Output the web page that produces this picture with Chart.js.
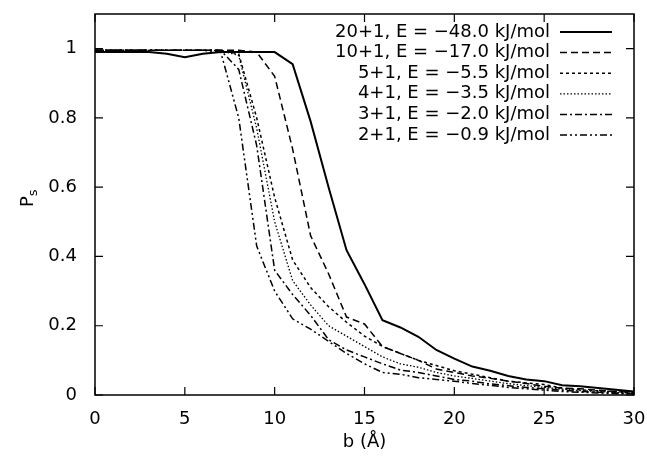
<!DOCTYPE html>
<html lang="en">
<head>
  <meta charset="UTF-8">
  <title>Ps vs impact parameter</title>
  <script src="https://cdn.jsdelivr.net/npm/chart.js"></script>
  <style>
    body { margin: 0; background: #fff; }
    canvas { display: block; }
  </style>
</head>
<body>
  <canvas id="psChart" width="647" height="457"></canvas>

  <script>
    // impact parameter b (Å), one point per Å
    const bValues = [0, 1, 2, 3, 4, 5, 6, 7, 8, 9, 10, 11, 12, 13, 14, 15, 16, 17, 18, 19, 20, 21, 22, 23, 24, 25, 26, 27, 28, 29, 30];

    const seriesLabels = [
      '20+1, E = \u221248.0 kJ/mol',
      '10+1, E = \u221217.0 kJ/mol',
      '5+1, E = \u22125.5 kJ/mol',
      '4+1, E = \u22123.5 kJ/mol',
      '3+1, E = \u22122.0 kJ/mol',
      '2+1, E = \u22120.9 kJ/mol'
    ];

    const ps20 = [0.99, 0.99, 0.99, 0.99, 0.985, 0.975, 0.985, 0.99, 0.99, 0.99, 0.99, 0.955, 0.79, 0.6, 0.418, 0.32, 0.216, 0.195, 0.168, 0.13, 0.105, 0.082, 0.07, 0.055, 0.045, 0.04, 0.028, 0.025, 0.02, 0.015, 0.01];
    const ps10 = [0.995, 0.995, 0.995, 0.995, 0.995, 0.995, 0.995, 0.995, 0.995, 0.99, 0.92, 0.71, 0.46, 0.35, 0.225, 0.205, 0.14, 0.12, 0.1, 0.075, 0.065, 0.055, 0.048, 0.04, 0.033, 0.025, 0.02, 0.018, 0.014, 0.01, 0.008];
    const ps5 = [0.995, 0.995, 0.995, 0.995, 0.995, 0.995, 0.995, 0.995, 0.985, 0.8, 0.57, 0.39, 0.31, 0.255, 0.21, 0.17, 0.14, 0.12, 0.1, 0.085, 0.07, 0.06, 0.05, 0.04, 0.035, 0.03, 0.02, 0.015, 0.012, 0.01, 0.006];
    const ps4 = [0.995, 0.995, 0.995, 0.995, 0.995, 0.995, 0.995, 0.995, 0.98, 0.77, 0.5, 0.33, 0.26, 0.2, 0.17, 0.14, 0.11, 0.09, 0.08, 0.065, 0.055, 0.048, 0.04, 0.033, 0.027, 0.022, 0.017, 0.013, 0.01, 0.008, 0.005];
    const ps3 = [0.995, 0.995, 0.995, 0.995, 0.995, 0.995, 0.995, 0.995, 0.94, 0.72, 0.36, 0.29, 0.23, 0.16, 0.13, 0.11, 0.09, 0.072, 0.065, 0.055, 0.045, 0.04, 0.032, 0.027, 0.022, 0.018, 0.014, 0.01, 0.008, 0.006, 0.004];
    const ps2 = [0.995, 0.995, 0.995, 0.995, 0.995, 0.995, 0.995, 0.99, 0.8, 0.43, 0.3, 0.22, 0.19, 0.155, 0.12, 0.09, 0.065, 0.06, 0.05, 0.045, 0.04, 0.033, 0.028, 0.022, 0.018, 0.014, 0.01, 0.008, 0.006, 0.004, 0.003];

    const allSeries = [ps20, ps10, ps5, ps4, ps3, ps2];
    const dashes = [[], [7, 4], [3, 3], [1.5, 2], [7, 3, 2, 3], [7, 3, 2, 3, 2, 3]];
    const widths = [2, 1.5, 1.5, 1.3, 1.5, 1.5];

    const FONT = 'DejaVu Sans';

    const datasets = allSeries.map((vals, i) => ({
      label: seriesLabels[i],
      data: vals.map((v, j) => ({ x: bValues[j], y: v })),
      borderColor: '#000',
      borderWidth: widths[i],
      borderDash: dashes[i],
      pointRadius: 0,
      fill: false,
      tension: 0
    }));

    // frame with inward ticks on all four sides, legend and y title
    const framePlugin = {
      id: 'frame',
      afterDraw(chart) {
        const { ctx, chartArea: a, scales } = chart;
        ctx.save();
        ctx.strokeStyle = '#000';
        ctx.lineWidth = 1.5;
        ctx.setLineDash([]);
        ctx.strokeRect(a.left, a.top, a.right - a.left, a.bottom - a.top);

        ctx.lineWidth = 1.2;
        ctx.beginPath();
        scales.x.ticks.forEach(t => {
          const px = scales.x.getPixelForValue(t.value);
          ctx.moveTo(px, a.bottom); ctx.lineTo(px, a.bottom - 8);
          ctx.moveTo(px, a.top); ctx.lineTo(px, a.top + 8);
        });
        scales.y.ticks.forEach(t => {
          const py = scales.y.getPixelForValue(t.value);
          ctx.moveTo(a.left, py); ctx.lineTo(a.left + 8, py);
          ctx.moveTo(a.right, py); ctx.lineTo(a.right - 8, py);
        });
        ctx.stroke();

        // legend: right aligned text, line sample to its right
        ctx.font = '18px "' + FONT + '"';
        ctx.textAlign = 'right';
        ctx.textBaseline = 'middle';
        ctx.fillStyle = '#000';
        chart.data.datasets.forEach((ds, i) => {
          const y = 32 + i * 20.6;
          ctx.fillText(ds.label, 550, y);
          ctx.beginPath();
          ctx.lineWidth = ds.borderWidth;
          ctx.setLineDash(ds.borderDash);
          ctx.moveTo(560, y);
          ctx.lineTo(612, y);
          ctx.stroke();
        });
        ctx.setLineDash([]);

        // y title P with subscript s
        ctx.translate(28, 198);
        ctx.rotate(-Math.PI / 2);
        ctx.textAlign = 'left';
        ctx.textBaseline = 'middle';
        ctx.font = '18px "' + FONT + '"';
        ctx.fillText('P', -9, 0);
        const pw = ctx.measureText('P').width;
        ctx.font = '13px "' + FONT + '"';
        ctx.fillText('s', -9 + pw, 6);
        ctx.restore();
      }
    };

    const ctx = document.getElementById('psChart').getContext('2d');
    new Chart(ctx, {
      type: 'line',
      data: { datasets },
      options: {
        responsive: false,
        animation: false,
        layout: { padding: { top: 14, right: 13, left: 0, bottom: 0 } },
        plugins: {
          legend: { display: false },
          tooltip: { enabled: false }
        },
        scales: {
          x: {
            type: 'linear',
            min: 0,
            max: 30,
            grid: { display: false },
            border: { display: false },
            ticks: {
              stepSize: 5,
              color: '#000',
              padding: 6,
              maxRotation: 0,
              font: { family: FONT, size: 18 }
            },
            title: {
              display: true,
              text: 'b (\u00c5)',
              color: '#000',
              font: { family: FONT, size: 18 },
              padding: { top: 2, bottom: 4 }
            },
            afterFit(scale) {
              scale.height = 62;
              scale.paddingLeft = 0;
              scale.paddingRight = 0;
            }
          },
          y: {
            min: 0,
            max: 1.1,
            grid: { display: false },
            border: { display: false },
            ticks: {
              stepSize: 0.2,
              includeBounds: false,
              color: '#000',
              padding: 10,
              font: { family: FONT, size: 18 },
              callback: v => String(+v.toFixed(1))
            },
            afterFit(scale) {
              scale.width = 95;
              scale.paddingTop = 0;
              scale.paddingBottom = 0;
            }
          }
        }
      },
      plugins: [framePlugin]
    });
  </script>
</body>
</html>
